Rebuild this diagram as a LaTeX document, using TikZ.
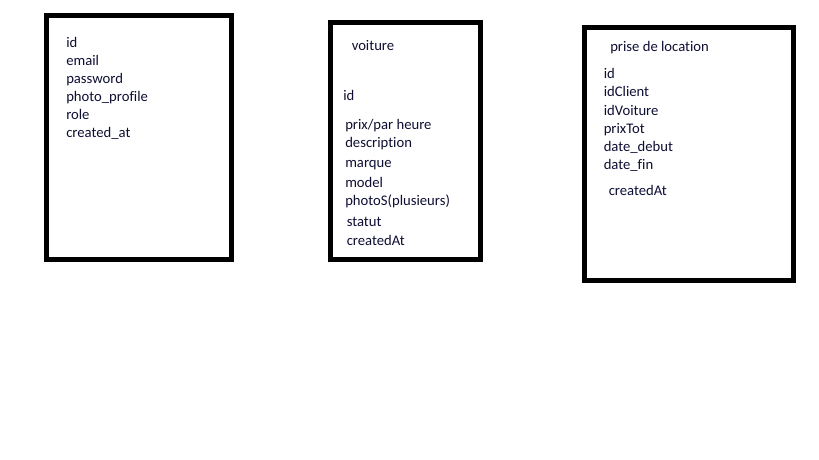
\documentclass[tikz,border=0pt]{standalone}
\usepackage{fontspec}
\setmainfont{Carlito}[RawFeature={-liga;-dlig}]
\usetikzlibrary{scopes}
\definecolor{ink}{RGB}{14,14,52}
\tikzset{
    table/.style={draw=black, line width=3.75pt},
    field/.style={anchor=base west, inner sep=0pt, text=ink, font=\fontsize{11}{13}\selectfont}
}

\begin{document}
\begin{tikzpicture}[x=0.75pt, y=-0.75pt]
    \useasboundingbox (0,0) rectangle (819,460);
    %utilisateur
    { [shift={(46.5,16)}]
    \draw[table] (0,-0.5) rectangle (185,243.5);
    \node[field] (uid) at (19.5,31.5) {id};
    \node[field] (uemail) at (19.5,49.5) {email};
    \node[field] (upass) at (19.5,67.5) {password};
    \node[field] (uphoto) at (19.5,85.5) {photo\_profile};
    \node[field] (urole) at (19.5,103.5) {role};
    \node[field] (ucreated) at (19.5,121.5) {created\_at};
    }
    %voiture
    { [shift={(330.5,23)}]
    \draw[table] (0,-0.5) rectangle (149.5,237);
    \node[field] (vtitle) at (21,28) {voiture};
    \node[field] (vid) at (12.5,78) {id};
    \node[field] (vprix) at (14.5,107) {prix/par heure};
    \node[field] (vdesc) at (14.5,125) {description};
    \node[field] (vmarque) at (14.5,145) {marque};
    \node[field] (vmodel) at (14.5,164.5) {model};
    \node[field] (vphotos) at (14.5,182.5) {photoS(plusieurs)};
    \node[field] (vstatut) at (16,204) {statut};
    \node[field] (vcreated) at (16,222.5) {createdAt};
    }
    %prise de location
    { [shift={(584.5,28)}]
    \draw[table] (0,-0.5) rectangle (209,252.5);
    \node[field] (ltitle) at (25.5,24) {prise de location};
    \node[field] (lid) at (19,51) {id};
    \node[field] (lclient) at (19,69) {idClient};
    \node[field] (lvoiture) at (19,87.5) {idVoiture};
    \node[field] (lprix) at (19,105.5) {prixTot};
    \node[field] (ldebut) at (19,123.5) {date\_debut};
    \node[field] (lfin) at (19,141.5) {date\_fin};
    \node[field] (lcreated) at (24,167.5) {createdAt};
    }
\end{tikzpicture}
\end{document}
